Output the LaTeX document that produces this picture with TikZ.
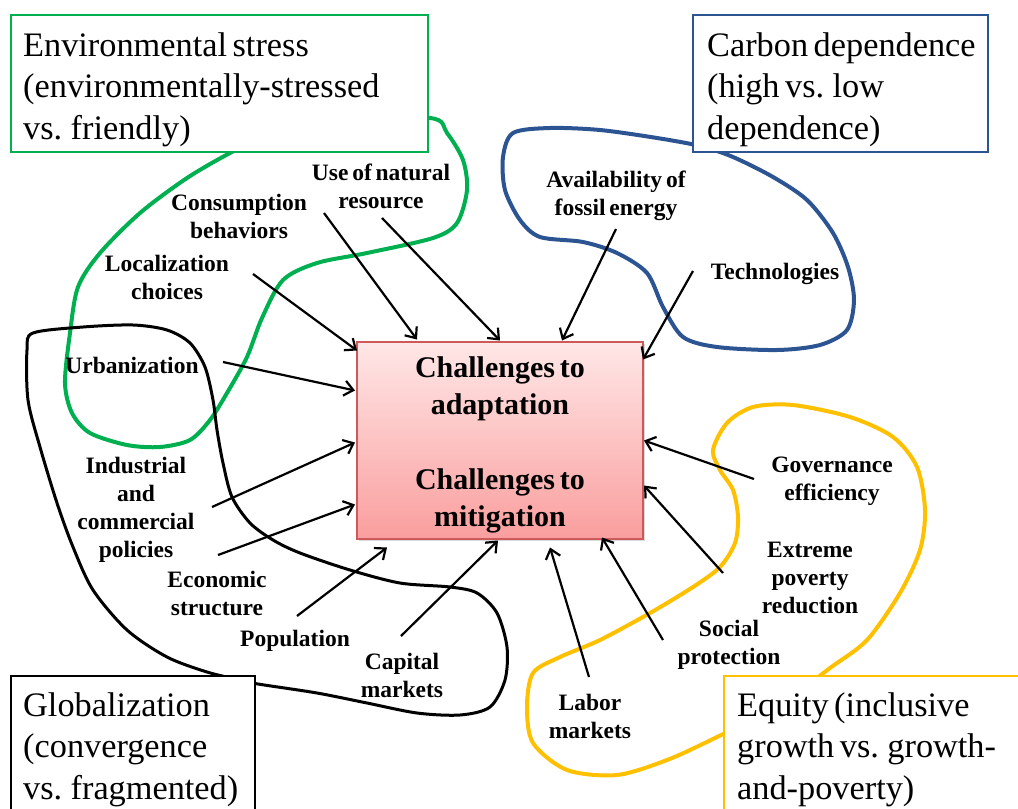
\documentclass[tikz,border=0pt]{standalone}
\usepackage{fontspec}
\setmainfont[WordSpace=0.65]{Liberation Serif}
\usetikzlibrary{arrows.meta,shadows}
\definecolor{envgreen}{RGB}{0,176,80}
\definecolor{carbblue}{RGB}{44,84,146}
\definecolor{eqorange}{RGB}{255,192,0}
\definecolor{chtop}{RGB}{255,231,231}
\definecolor{chbot}{RGB}{250,158,158}
\definecolor{chline}{RGB}{205,90,90}

\begin{document}
\begin{tikzpicture}
[
    x=1pt, y=-1pt,
    factor/.style={font=\fontsize{23.5}{28}\selectfont\bfseries, align=center, inner sep=0pt, yshift=-2pt},
    scenario/.style={font=\fontsize{34.3}{41.5}\selectfont, align=left, inner sep=0pt, anchor=north west},
    blobline/.style={line width=4pt},
    scenbox/.style={line width=2.2pt, fill=white},
    arr/.style={line width=2.2pt, -{Straight Barb[length=9pt,width=15pt]}},
    challenge/.style={top color=chtop, bottom color=chbot, draw=chline, line width=1.2pt,
        minimum width=286, minimum height=197, align=center,
        font=\fontsize{30}{37}\selectfont\bfseries,
        drop shadow={opacity=.3, shadow xshift=1.5pt, shadow yshift=-2pt}},
]
\useasboundingbox (0,0) rectangle (1018,809);

\draw[blobline, envgreen] plot[smooth cycle] coordinates {
    (230,153) (187,178) (140,213) (100,253) (78,287) (70,333) (65,383) (72,413)
    (90,433) (127,445) (160,447) (190,440) (210,420) (227,393) (247,357) (262,318)
    (283,280) (317,263) (367,253) (433,238) (457,223) (467,190) (463,160) (447,133)
    (430,118) (330,120) (250,145)};
\draw[blobline, carbblue] plot[smooth cycle] coordinates {
    (657,138) (600,130) (550,128) (513,133) (503,157) (505,190) (520,220) (540,237)
    (583,242) (617,253) (647,273) (663,307) (683,337) (717,347) (777,350) (820,345)
    (847,330) (854,300) (848,267) (833,233) (807,200) (773,177) (733,157) (700,146)};
\draw[line width=3pt] plot[smooth cycle] coordinates {
    (27,350) (33,333) (83,327) (133,325) (167,330) (190,343) (205,367) (213,400)
    (217,430) (223,463) (232,497) (250,523) (273,540) (300,553) (350,570) (400,583)
    (450,587) (477,593) (497,613) (507,647) (505,680) (490,707) (460,715) (417,713)
    (367,703) (317,693) (258,684) (240,680) (207,672) (167,657) (127,630) (93,590)
    (73,547) (57,503) (40,447) (28,400)};
\draw[blobline, eqorange] plot[smooth cycle] coordinates {
    (867,640) (900,593) (920,550) (925,510) (917,467) (893,437) (850,417) (793,405)
    (753,407) (727,423) (713,450) (720,470) (733,490) (738,517) (735,543) (720,567)
    (693,587) (650,613) (600,640) (560,657) (533,673) (527,707) (533,743) (567,770)
    (617,775) (667,760) (715,738) (780,705) (830,668)};

\draw[scenbox, draw=envgreen] (11,15) rectangle (428,152);
\draw[scenbox, draw=carbblue] (693,15) rectangle (988,152);
\draw[scenbox, draw=black] (11,676) rectangle (255,840);
\draw[scenbox, draw=eqorange] (724,676) rectangle (1040,840);

\node (env) [scenario] at (23,32) {Environmental stress\\(environmentally-stressed\\vs. friendly)};
\node (carb) [scenario] at (707,32) {Carbon dependence\\(high vs. low\\dependence)};
\node (glob) [scenario] at (23,692) {Globalization\\(convergence\\vs. fragmented)};
\node (equ) [scenario] at (737,692) {Equity (inclusive\\growth vs. growth-\\and-poverty)};

\node (ch) [challenge] at (500,440.5) {\rule{0pt}{30.5pt}Challenges to\\adaptation\\[38pt]Challenges to\\mitigation};

\node (res) [factor] at (381,184) {Use of natural\\resource};
\node (cons) [factor] at (239,214) {Consumption\\behaviors};
\node (loc) [factor] at (167,275) {Localization\\choices};
\node (urb) [factor] at (132,363) {Urbanization};
\node (fos) [factor] at (616,194) {Availability of\\fossil energy};
\node (tech) [factor] at (775,272) {Technologies};
\node (ind) [factor] at (136,508) {Industrial\\and\\commercial\\policies};
\node (eco) [factor] at (217,591) {Economic\\structure};
\node (pop) [factor] at (295,639) {Population};
\node (cap) [factor] at (402,673) {Capital\\markets};
\node (gov) [factor] at (832,479) {Governance\\efficiency};
\node (pov) [factor] at (810,576) {Extreme\\poverty\\reduction};
\node (soc) [factor] at (729,643) {Social\\protection};
\node (lab) [factor] at (590,714) {Labor\\markets};

\draw[arr] ([shift={(1,32)}]res.center) -- ([shift={(0,-100)}]ch.center);
\draw[arr] ([shift={(85,-3)}]cons.center) -- ([shift={(-83,-101)}]ch.center);
\draw[arr] ([shift={(86,-3)}]loc.center) -- ([shift={(-143,-90)}]ch.center);
\draw[arr] ([shift={(91,-3)}]urb.center) -- ([shift={(-145,-50)}]ch.center);
\draw[arr] ([shift={(0,33)}]fos.center) -- ([shift={(62,-100)}]ch.center);
\draw[arr] ([shift={(-82,-3)}]tech.center) -- ([shift={(143,-81)}]ch.center);
\draw[arr] ([shift={(76,-3)}]ind.center) -- ([shift={(-145,2)}]ch.center);
\draw[arr] ([shift={(1,-38)}]eco.center) -- ([shift={(-145,64)}]ch.center);
\draw[arr] ([shift={(2,-25)}]pop.center) -- ([shift={(-113,107)}]ch.center);
\draw[arr] ([shift={(-1,-39)}]cap.center) -- ([shift={(-2,100)}]ch.center);
\draw[arr] ([shift={(-78,-2)}]gov.center) -- ([shift={(144,0)}]ch.center);
\draw[arr] ([shift={(-87,-5)}]pov.center) -- ([shift={(144,45)}]ch.center);
\draw[arr] ([shift={(-66,-5)}]soc.center) -- ([shift={(102,97)}]ch.center);
\draw[arr] ([shift={(-1,-39)}]lab.center) -- ([shift={(50,107)}]ch.center);
\end{tikzpicture}
\end{document}
